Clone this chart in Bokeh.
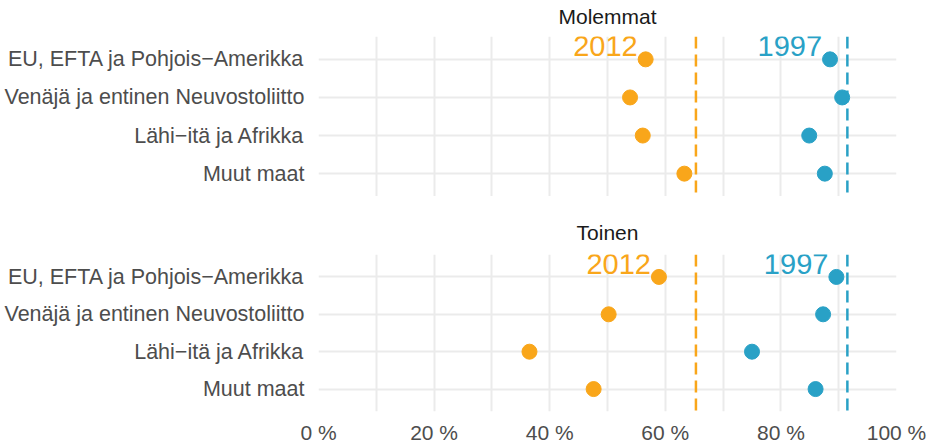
from bokeh.plotting import figure
from bokeh.layouts import column
from bokeh.models import FactorRange, FixedTicker, Span, Range1d, ColumnDataSource
from bokeh.core.properties import value
from bokeh.embed import file_html
from bokeh.resources import INLINE

# ---- data ----
regions = ["EU, EFTA ja Pohjois\u2212Amerikka",
           "Ven\u00e4j\u00e4 ja entinen Neuvostoliitto",
           "L\u00e4hi\u2212it\u00e4 ja Afrikka",
           "Muut maat"]
panels = ["Molemmat", "Toinen"]
molemmat_2012 = [56.6, 53.9, 56.1, 63.3]
molemmat_1997 = [88.5, 90.6, 84.9, 87.6]
toinen_2012 = [58.9, 50.2, 36.5, 47.6]
toinen_1997 = [89.6, 87.3, 75.0, 86.0]
mean_2012 = 65.3
mean_1997 = 91.5
years = ["2012", "1997"]
tick_values = [0, 20, 40, 60, 80, 100]
tick_labels = ["0 %", "20 %", "40 %", "60 %", "80 %", "100 %"]
grid_values = [0, 10, 20, 30, 40, 50, 60, 70, 80, 90, 100]

ORANGE = "#F9A61A"
BLUE = "#29A1C6"
FONT = "Liberation Sans"


def make_panel(title, v2012, v1997, show_x, height, top, title_standoff):
    p = figure(width=928, height=height,
               x_range=Range1d(0, 100),
               y_range=FactorRange(factors=list(reversed(regions)),
                                   range_padding=0.1,
                                   range_padding_units="absolute"),
               output_backend="svg", toolbar_location=None,
               min_border_left=318, min_border_right=32,
               min_border_top=top, min_border_bottom=0,
               title=title)
    p.title.align = "center"
    p.title.text_font = FONT
    p.title.text_font_size = "21px"
    p.title.text_font_style = "normal"
    p.title.text_color = "#1a1a1a"
    p.title.standoff = title_standoff
    p.outline_line_color = None
    p.background_fill_color = "white"
    p.border_fill_color = "white"

    p.xgrid.ticker = FixedTicker(ticks=grid_values)
    p.xgrid.grid_line_color = "#ebebeb"
    p.xgrid.grid_line_width = 2
    p.ygrid.grid_line_color = "#ebebeb"
    p.ygrid.grid_line_width = 2

    p.yaxis.axis_line_color = None
    p.yaxis.major_tick_line_color = None
    p.yaxis.minor_tick_line_color = None
    p.yaxis.major_tick_out = 0
    p.yaxis.major_tick_in = 0
    p.yaxis.major_label_text_font = FONT
    p.yaxis.major_label_text_font_size = "21.5px"
    p.yaxis.major_label_text_color = "#4d4d4d"
    p.yaxis.major_label_standoff = 14

    if show_x:
        p.xaxis.ticker = FixedTicker(ticks=tick_values)
        p.xaxis.major_label_overrides = {t: l for t, l in zip(tick_values, tick_labels)}
        p.xaxis.axis_line_color = None
        p.xaxis.major_tick_line_color = None
        p.xaxis.minor_tick_line_color = None
        p.xaxis.major_tick_out = 0
        p.xaxis.major_tick_in = 0
        p.xaxis.major_label_text_font = FONT
        p.xaxis.major_label_text_font_size = "21px"
        p.xaxis.major_label_text_color = "#4d4d4d"
        p.xaxis.major_label_standoff = 9
    else:
        p.xaxis.visible = False

    src = ColumnDataSource(dict(region=regions, v2012=v2012, v1997=v1997))
    p.scatter(x="v2012", y="region", source=src, size=15,
              fill_color=ORANGE, line_color=ORANGE)
    p.scatter(x="v1997", y="region", source=src, size=15,
              fill_color=BLUE, line_color=BLUE)

    p.add_layout(Span(location=mean_2012, dimension="height", line_color=ORANGE,
                      line_width=2.5, line_dash="12 6"))
    p.add_layout(Span(location=mean_1997, dimension="height", line_color=BLUE,
                      line_width=2.5, line_dash="12 6"))

    lab = ColumnDataSource(dict(x=[v2012[0], v1997[0]], y=[regions[0], regions[0]],
                                t=years, c=[ORANGE, BLUE]))
    p.text(x="x", y="y", text="t", source=lab, text_color="c",
           text_align="right", text_baseline="middle",
           x_offset=-8, y_offset=-13,
           text_font=value(FONT), text_font_size="29px")
    return p


p1 = make_panel(panels[0], molemmat_2012, molemmat_1997, False, 202, 42, 17)
p1.margin = (-6, 0, 0, 0)
p2 = make_panel(panels[1], toinen_2012, toinen_1997, True, 250, 58, 21)
p = column(p1, p2)

open("out.html", "w").write(file_html(p, INLINE))
